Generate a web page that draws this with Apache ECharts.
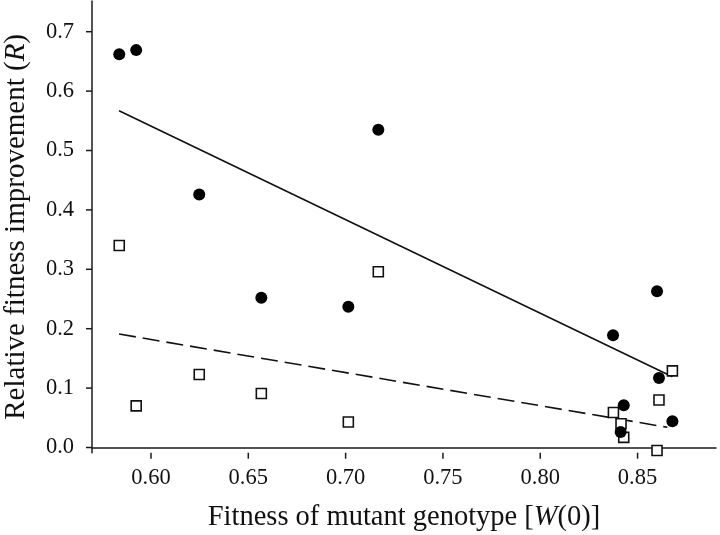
<!DOCTYPE html>
<html>
<head>
<meta charset="utf-8">
<script src="https://cdn.jsdelivr.net/npm/echarts@6/dist/echarts.min.js"></script>
<style>html,body{margin:0;padding:0;background:#fff}#c{width:720px;height:535px}</style>
</head>
<body>
<div id="c"></div>
<script>
// Filled circles (upper data set)
const circleX = [0.5837, 0.5924, 0.6248, 0.6567, 0.7014, 0.7168, 0.8374, 0.8413, 0.8429, 0.8600, 0.8610, 0.8679];
const circleY = [0.662, 0.669, 0.426, 0.252, 0.237, 0.535, 0.189, 0.026, 0.071, 0.263, 0.117, 0.044];
// Open squares (lower data set)
const squareX = [0.5837, 0.5924, 0.6248, 0.6567, 0.7014, 0.7168, 0.8376, 0.8415, 0.8429, 0.8600, 0.8610, 0.8679];
const squareY = [0.340, 0.070, 0.123, 0.091, 0.043, 0.296, 0.059, 0.040, 0.017, -0.005, 0.080, 0.129];
// Fitted regression lines (end points)
const solidFitX = [0.5836, 0.8679];
const solidFitY = [0.567, 0.119];
const dashedFitX = [0.5836, 0.8653];
const dashedFitY = [0.191, 0.034];
// Tick labels
const xTicks = [0.60, 0.65, 0.70, 0.75, 0.80, 0.85];
const yTicks = [0.0, 0.1, 0.2, 0.3, 0.4, 0.5, 0.6, 0.7];

const X_MIN = 0.5697, X_MAX = 0.8903, Y_MIN = -0.00875, Y_MAX = 0.7517;
const zip = (a, b) => a.map((v, i) => [v, b[i]]);
const FONT = 'Liberation Serif';
const INK = '#111';
const TICK_LEN = 6;

const chart = echarts.init(document.getElementById('c'));
chart.setOption({
  animation: false,
  backgroundColor: '#fff',
  grid: { left: 92, right: 4, top: 1, bottom: 82.3, containLabel: false, outerBoundsMode: 'none' },
  xAxis: {
    type: 'value', min: X_MIN, max: X_MAX,
    name: 'Fitness of mutant genotype [{i|W}(0)]',
    nameLocation: 'middle', nameGap: 50,
    nameTextStyle: { fontFamily: FONT, fontSize: 28.5, color: INK,
      rich: { i: { fontFamily: FONT, fontSize: 28.5, fontStyle: 'italic', color: INK } } },
    axisLine: { show: true, lineStyle: { color: '#1a1a1a', width: 1.5 } },
    axisTick: { show: false },
    axisLabel: { customValues: xTicks, formatter: v => v.toFixed(2), margin: 14,
      fontFamily: FONT, fontSize: 22.5, color: INK },
    splitLine: { show: false }
  },
  yAxis: {
    type: 'value', min: Y_MIN, max: Y_MAX,
    name: 'Relative fitness improvement ({i|R})',
    nameLocation: 'middle', nameGap: 61,
    nameTextStyle: { fontFamily: FONT, fontSize: 29, color: INK,
      rich: { i: { fontFamily: FONT, fontSize: 29, fontStyle: 'italic', color: INK } } },
    axisLine: { show: true, lineStyle: { color: '#1a1a1a', width: 1.5 } },
    axisTick: { show: false },
    axisLabel: { customValues: yTicks, formatter: v => v.toFixed(1), margin: 18,
      fontFamily: FONT, fontSize: 22.5, color: INK },
    splitLine: { show: false }
  },
  series: [
    // axis tick marks, placed through the axis scales
    { type: 'custom', silent: true, clip: false, z: 5,
      data: xTicks.map(v => [v, Y_MIN]),
      renderItem: (params, api) => {
        const p = api.coord([api.value(0), api.value(1)]);
        return { type: 'line', shape: { x1: p[0], y1: p[1], x2: p[0], y2: p[1] + TICK_LEN },
          style: { stroke: '#1a1a1a', lineWidth: 1.5 } };
      } },
    { type: 'custom', silent: true, clip: false, z: 5,
      data: yTicks.map(v => [X_MIN, v]),
      renderItem: (params, api) => {
        const p = api.coord([api.value(0), api.value(1)]);
        return { type: 'line', shape: { x1: p[0], y1: p[1], x2: p[0] - TICK_LEN, y2: p[1] },
          style: { stroke: '#1a1a1a', lineWidth: 1.5 } };
      } },
    { type: 'line', data: zip(solidFitX, solidFitY), symbol: 'none', silent: true,
      lineStyle: { color: INK, width: 1.6, type: 'solid', opacity: 1 }, z: 1 },
    { type: 'line', data: zip(dashedFitX, dashedFitY), symbol: 'none', silent: true,
      lineStyle: { color: INK, width: 1.6, type: [17, 7], opacity: 1 }, z: 1 },
    { type: 'scatter', data: zip(squareX, squareY), symbol: 'rect', symbolSize: 10,
      itemStyle: { color: '#fff', borderColor: INK, borderWidth: 1.6, opacity: 1 }, z: 3 },
    { type: 'scatter', data: zip(circleX, circleY), symbol: 'circle', symbolSize: 12,
      itemStyle: { color: '#000', opacity: 1 }, z: 4 }
  ]
});
</script>
</body>
</html>
